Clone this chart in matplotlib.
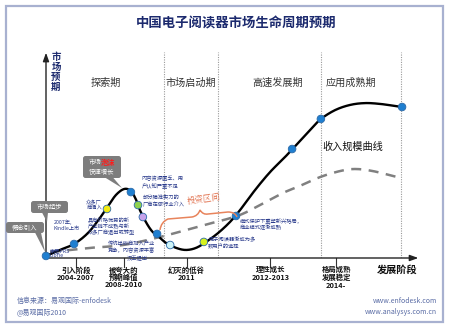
import numpy as np
import matplotlib
matplotlib.use("Agg")
import matplotlib.pyplot as plt
from matplotlib.patches import FancyBboxPatch, Polygon, Rectangle
from matplotlib.path import Path
from matplotlib.patches import PathPatch

plt.rcParams['font.family'] = ['Noto Sans CJK SC', 'DejaVu Sans']

# ---------------- data (index units, 0-100) ----------------
title = "中国电子阅读器市场生命周期预期"
phase_names = ["探索期", "市场启动期", "高速发展期", "应用成熟期"]
phase_bounds = [31.6, 46.0, 73.5, 94.9]
stage_labels = ["引入阶段\n2004-2007", "被夸大的\n预期峰值\n2008-2010", "幻灭的低谷\n2011",
                "理性成长\n2012-2013", "格局成熟\n发展稳定\n2014-"]
stage_ticks = [8.0, 20.8, 37.6, 60.0, 77.6]

market_x = [0, 3.7, 7.5, 11.2, 14.4, 16.6, 18.7, 20.9, 22.7, 24.1, 25.1, 26.7, 28.3, 29.9,
            32.1, 34.8, 37.4, 40.1, 42.8, 46.0, 49.2, 51.9, 55.9, 59.9, 63.9, 67.9, 71.1,
            73.5, 77.3, 81.3, 85.3, 89.3, 93.3, 95.2]
market_y = [1.0, 3.9, 6.8, 12.1, 19.4, 25.2, 30.6, 33.5, 32.5, 28.2, 23.3, 17.5, 13.1, 10.7,
            7.3, 4.9, 3.9, 4.9, 7.8, 12.1, 17.5, 23.3, 33.0, 41.7, 49.0, 56.8, 63.1,
            67.5, 71.8, 74.3, 75.2, 74.8, 73.8, 73.3]

revenue_x = [1.1, 11.8, 20.6, 30.5, 41.2, 51.1, 57.2, 63.4, 67.9, 73.3, 78.6, 82.6, 87.4, 93.9]
revenue_y = [2.9, 4.9, 6.3, 10.2, 15.5, 20.4, 25.7, 31.6, 35.0, 39.3, 42.2, 43.2, 42.2, 39.3]

event_x = [0, 7.5, 16.3, 22.7, 24.6, 25.9, 29.7, 33.2, 42.2, 50.8, 65.8, 73.5, 95.2]
event_y = [1.0, 6.8, 23.8, 32.0, 25.7, 19.9, 11.7, 6.3, 7.8, 20.4, 52.9, 67.5, 73.3]
event_colors = ["#1f7fd0", "#1f7fd0", "#f2ea10", "#1f7fd0", "#8fd14f", "#c6a2ea",
                "#1f7fd0", "#cdf3f7", "#d6f21e", "#1f7fd0", "#1f7fd0", "#1f7fd0", "#1f7fd0"]


def smooth(xs, ys, n=12):
    xs = np.asarray(xs, float); ys = np.asarray(ys, float)
    px = np.concatenate([[2 * xs[0] - xs[1]], xs, [2 * xs[-1] - xs[-2]]])
    py = np.concatenate([[2 * ys[0] - ys[1]], ys, [2 * ys[-1] - ys[-2]]])
    ox, oy = [], []
    t = np.linspace(0, 1, n, endpoint=False)
    for i in range(1, len(px) - 2):
        for arr, out in ((px, ox), (py, oy)):
            p0, p1, p2, p3 = arr[i - 1], arr[i], arr[i + 1], arr[i + 2]
            out.extend(0.5 * ((2 * p1) + (-p0 + p2) * t + (2 * p0 - 5 * p1 + 4 * p2 - p3) * t ** 2
                              + (-p0 + 3 * p1 - 3 * p2 + p3) * t ** 3))
    ox.append(xs[-1]); oy.append(ys[-1])
    return np.array(ox), np.array(oy)


W, H = 450, 328
fig = plt.figure(figsize=(W / 100, H / 100), dpi=100)
fig.patch.set_facecolor("white")

# chart axes: pixel box x 46..420, y 52..258
ax = fig.add_axes([46 / W, (H - 258) / H, 374 / W, 206 / H])
ax.set_xlim(0, 100); ax.set_ylim(0, 100)
ax.axis("off")
ax.set_zorder(1)

for b in phase_bounds:
    ax.plot([b, b], [0, 100], color="#9a9a9a", lw=0.8, ls=(0, (1, 1.2)), zorder=1)

rx, ry = smooth(revenue_x, revenue_y)
ax.plot(rx, ry, color="#808080", lw=1.8, dashes=(4, 3), zorder=2)
mx, my = smooth(market_x, market_y)
ax.plot(mx, my, color="black", lw=1.7, zorder=3)
ax.scatter(event_x, event_y, s=30, c=event_colors, edgecolors="#2c6aa8", linewidths=0.6,
           zorder=5, clip_on=False)

# axes arrows
ax.annotate("", xy=(100.3, 0), xytext=(0, 0), annotation_clip=False,
            arrowprops=dict(arrowstyle="-|>,head_length=0.5,head_width=0.18", color="#222222", lw=1.0))
ax.annotate("", xy=(0, 101), xytext=(0, 0), annotation_clip=False,
            arrowprops=dict(arrowstyle="-|>,head_length=0.5,head_width=0.18", color="#222222", lw=1.0))
for t in stage_ticks:
    ax.plot([t, t], [0, -4.5], color="#333333", lw=0.8, clip_on=False)
for t, lab in zip(stage_ticks, stage_labels):
    ax.text(t, -4.0, lab, ha="center", va="top", fontsize=5.3, fontweight="bold",
            linespacing=1.05, color="#111111")
ax.text(93.8, -3.5, "发展阶段", ha="center", va="top", fontsize=7.3, fontweight="bold", color="#111111")

# phase names
ph_x = [16.0, 38.8, 62.0, 81.5]
for x, n in zip(ph_x, phase_names):
    ax.text(x, 85, n, ha="center", va="center", fontsize=7.3, color="#333333")

# overlay in pixel coordinates
ov = fig.add_axes([0, 0, 1, 1])
ov.set_xlim(0, W); ov.set_ylim(H, 0)
ov.axis("off")
ov.set_zorder(2)
ov.patch.set_alpha(0)

ov.add_patch(Rectangle((6, 6), 437, 316, fill=False, edgecolor="#a8b1d0", lw=1.6))
ov.text(236, 23, title, ha="center", va="center", fontsize=9.6, fontweight="bold", color="#1c2a6e")
ov.text(56, 72, "市\n场\n预\n期", ha="center", va="center", fontsize=6.8, fontweight="bold",
        color="#1c2a6e", linespacing=1.0)

ov.text(322, 147, "收入规模曲线", ha="left", va="center", fontsize=7.3, color="#111111")


def callout(x0, y0, w, h, base, tip):
    ov.add_patch(FancyBboxPatch((x0, y0), w, h, boxstyle="round,pad=0,rounding_size=2.5",
                                facecolor="#7d7d7d", edgecolor="none"))
    ov.add_patch(Polygon([(base[0], y0 + h - 0.5), (base[1], y0 + h - 0.5), tip],
                         closed=True, facecolor="#7d7d7d", edgecolor="none"))


callout(6, 222, 38, 11, (35, 41), (45, 252))
ov.text(25, 227.5, "概念引入", ha="center", va="center", fontsize=4.6, color="white")
callout(31, 201, 37, 12, (42, 48), (47, 222))
ov.text(49.5, 207, "市场起步", ha="center", va="center", fontsize=4.6, color="white")
callout(83, 156, 38, 22, (105, 113), (122, 188))
ov.text(101, 162, "市场", ha="right", va="center", fontsize=4.6, color="white")
ov.text(101, 162, "泡沫", ha="left", va="center", fontsize=5.2, color="#ff1a1a", fontweight="bold")
ov.text(102, 172, "快速增长", ha="center", va="center", fontsize=4.6, color="white")

nav = "#2a3b8c"
notes = [
    (54, 225, "2007年,\nKindle上市", "left"),
    (102, 205, "众多厂\n商涌入", "right"),
    (88, 226, "具有价格优势的新\n产业链不成熟与新\n众多厂商退出或转型", "left"),
    (142, 182, "内容资源匮乏、用\n户认知严重不足", "left"),
    (143, 201, "部分瞄准实力的\n厂商在做行业介入", "left"),
    (108, 247, "传统出版商加入产业\n竞争，内容资源丰富", "left"),
    (208, 242, "电子阅读器渐成为多\n数用户的选择", "left"),
    (240, 224, "模式保护下重塑新兴格局，\n商业模式逐渐成熟", "left"),
    (50, 253, "索尼PRS\nLibrie", "left"),
    (127, 258, "汉王退出", "left"),
]
for x, y, s, ha in notes:
    ov.text(x, y, s, ha=ha, va="center", fontsize=3.8, color=nav, linespacing=1.1)

# investment interval brace
verts = [(160, 230), (161, 222), (168, 219), (192, 217), (198, 216), (200, 210),
         (203, 215), (208, 214), (228, 212), (235, 212), (237, 217)]
codes = [Path.MOVETO, Path.CURVE3, Path.CURVE3, Path.LINETO, Path.CURVE3, Path.CURVE3,
         Path.CURVE3, Path.CURVE3, Path.LINETO, Path.CURVE3, Path.CURVE3]
ov.add_patch(PathPatch(Path(verts, codes), facecolor="none", edgecolor="#e8845c", lw=1.1))
ov.text(204, 199, "投资区间", ha="center", va="center", fontsize=6.0, color="#e06a45",
        rotation=8, family=["Noto Serif CJK SC", "Noto Sans CJK SC", "DejaVu Sans"])

foot = "#5a6ca5"
ov.text(17, 301, "信息来源：易观国际-enfodesk", ha="left", va="center", fontsize=5.0, color=foot)
ov.text(17, 312, "@易观国际2010", ha="left", va="center", fontsize=5.0, color=foot)
ov.text(437, 301, "www.enfodesk.com", ha="right", va="center", fontsize=5.0, color=foot)
ov.text(437, 312, "www.analysys.com.cn", ha="right", va="center", fontsize=5.0, color=foot)

fig.savefig("out.png", dpi=100, facecolor="white")
